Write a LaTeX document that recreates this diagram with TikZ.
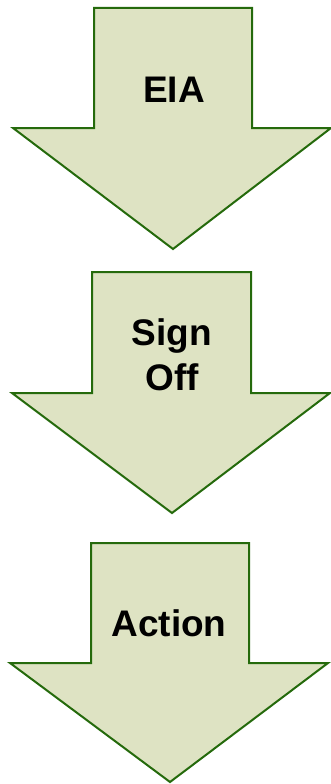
\documentclass[tikz,border=0pt]{standalone}
\usepackage{fontspec}
\setmainfont{Liberation Sans}
\usetikzlibrary{positioning}

\begin{document}
\begin{tikzpicture}[
    x=1pt, y=-1pt,
    every node/.style={font=\fontsize{37}{45}\selectfont\bfseries},
    downarrow/.style={
        draw=arrowline,
        fill=arrowfill,
        line width=2pt,
        line join=miter,
    }
]

% Colors matching the original
\definecolor{arrowfill}{HTML}{DEE3C3}
\definecolor{arrowline}{HTML}{256A0C}

\useasboundingbox (0,0) rectangle (331,784);

% Arrows top to bottom
\draw[downarrow] (94,8) -- (252,8) -- (252,128) -- (331,128) -- (173,249) -- (13,128) -- (94,128) -- cycle;
\draw[downarrow] (92,272) -- (251,272) -- (251,393) -- (330,393) -- (172,513) -- (12,393) -- (92,393) -- cycle;
\draw[downarrow] (91,543) -- (249,543) -- (249,663) -- (328,663) -- (170,782) -- (10,663) -- (91,663) -- cycle;

% Arrow labels
\node[anchor=base] (eia) at (174,102.7) {EIA};
\node[align=center] (signoff) at (172,355) {Sign\\Off};
\node[anchor=base] (action) at (169,636.7) {Action};

\end{tikzpicture}
\end{document}
